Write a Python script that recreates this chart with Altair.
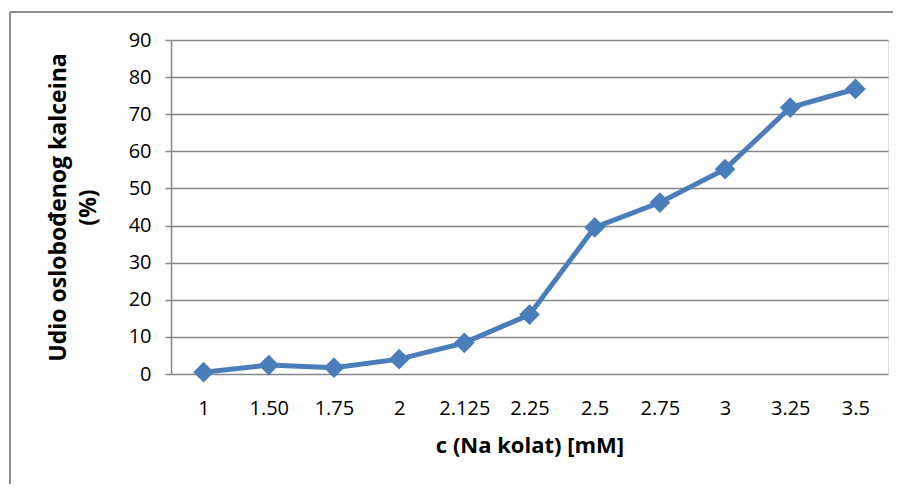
import altair as alt
import pandas as pd

categories = ["1", "1.50", "1.75", "2", "2.125", "2.25", "2.5", "2.75", "3", "3.25", "3.5"]
values = [0.5, 2.4, 1.7, 4.0, 8.4, 16.0, 39.5, 46.2, 55.2, 71.8, 76.8]
y_ticks = [0, 10, 20, 30, 40, 50, 60, 70, 80, 90]

df = pd.DataFrame({"c": categories, "v": values})

FONT = "Open Sans"
BLUE = "#4A7EBB"
GRAY = "#868686"

x = alt.X("c:N", sort=categories,
          scale=alt.Scale(type="point", padding=0.5),
          axis=alt.Axis(title="c (Na kolat) [mM]", labelAngle=0, ticks=False,
                        domain=False, grid=False, labelPadding=24,
                        labelFontSize=20, titleFontSize=22, titleFontWeight="bold",
                        titlePadding=17, labelColor="black", titleColor="black",
                        labelFont=FONT, titleFont=FONT))
y = alt.Y("v:Q", scale=alt.Scale(domain=[0, 90], nice=False, zero=True),
          axis=alt.Axis(title=["Udio oslobođenog kalceina", "(%)"], values=y_ticks,
                        grid=True, gridColor=GRAY, gridWidth=1.5,
                        domain=True, domainColor=GRAY, domainWidth=1.5,
                        ticks=True, tickColor=GRAY, tickSize=6, tickWidth=1.5,
                        labelPadding=14, labelFontSize=20, titleFontSize=23,
                        titleFontWeight="bold", titlePadding=28, titleLineHeight=30,
                        labelColor="black", titleColor="black",
                        labelFont=FONT, titleFont=FONT))

line = alt.Chart(df).mark_line(color=BLUE, strokeWidth=5).encode(x=x, y=y)
pts = alt.Chart(df).mark_point(shape="diamond", filled=True, color=BLUE, size=430, opacity=1).encode(x=x, y=y)

base_rule = alt.Chart(df).mark_rule(color="#8C8C8C", strokeWidth=1.5)
border_left = base_rule.encode(x=alt.value(-161), y=alt.value(-28), y2=alt.value(520))
border_top = base_rule.encode(x=alt.value(-161), x2=alt.value(760), y=alt.value(-28))

chart = alt.layer(border_left, border_top, line, pts).properties(
    width=717, height=334,
    autosize=alt.AutoSizeParams(type="none"),
    padding={"left": 163, "top": 32, "right": 5, "bottom": 110},
).configure_view(stroke=None).configure(background="white")

chart.save("out.html", embed_options={"renderer": "svg", "actions": False})
